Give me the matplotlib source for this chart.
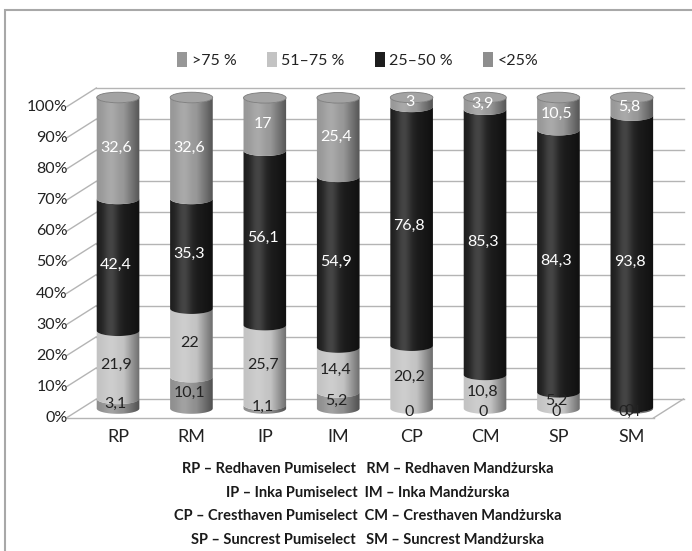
import numpy as np
import matplotlib.pyplot as plt
from matplotlib.patches import Polygon, Ellipse, Rectangle, PathPatch, Patch
from matplotlib.path import Path

plt.rcParams["font.family"] = ["Lato", "DejaVu Sans"]

# data (stack order bottom -> top)
categories = ["RP", "RM", "IP", "IM", "CP", "CM", "SP", "SM"]
lt25 = [3.1, 10.1, 1.1, 5.2, 0, 0, 0, 0.4]
r51_75 = [21.9, 22, 25.7, 14.4, 20.2, 10.8, 5.2, 0]
r25_50 = [42.4, 35.3, 56.1, 54.9, 76.8, 85.3, 84.3, 93.8]
gt75 = [32.6, 32.6, 17, 25.4, 3, 3.9, 10.5, 5.8]
series = [lt25, r51_75, r25_50, gt75]
names = ["<25%", "51–75 %", "25–50 %", ">75 %"]
colors = ["#8e8e8e", "#c3c3c3", "#1d1d1d", "#979797"]
label_colors = ["#222222", "#222222", "white", "white"]
yticks = list(range(0, 101, 10))
footnote = ["RP – Redhaven Pumiselect   RM – Redhaven Mandżurska",
            "IP – Inka Pumiselect  IM – Inka Mandżurska",
            "CP – Cresthaven Pumiselect  CM – Cresthaven Mandżurska",
            "SP – Suncrest Pumiselect   SM – Suncrest Mandżurska"]

W, H = 692, 551
fig = plt.figure(figsize=(W / 100, H / 100), dpi=100)
ax = fig.add_axes([0, 0, 1, 1])
ax.axis("off")

# pixel mapping of the mid-depth plane
px0, pxstep = 118, 73.4
py0, pyscale = 408.5, 3.11
xlim = ((0 - px0) / pxstep, (W - px0) / pxstep)
ylim = ((py0 - H) / pyscale, py0 / pyscale)
dx = 15 / pxstep   # half depth offset
dy = 9.5 / pyscale
grid_c = "#b4b4b4"
n = len(categories)
xl, xr = -0.5, n - 0.5

# back wall, diagonals, floor
for t in yticks:
    ax.plot([xl + dx, xr + dx], [t + dy, t + dy], color=grid_c, lw=1, zorder=1)
    ax.plot([xl - dx, xl + dx], [t - dy, t + dy], color=grid_c, lw=1, zorder=1)
    ax.text(xl - dx + 0.02, t - dy, f"{t}%", ha="right", va="center",
            fontsize=11.5, color="#222222")
ax.plot([xl - dx, xr - dx], [-dy, -dy], color=grid_c, lw=1, zorder=1)
ax.plot([xr - dx, xr + dx], [-dy, dy], color=grid_c, lw=1, zorder=1)

a = 0.29   # half width of cylinder
b = 1.7    # ellipse half height
tt = np.linspace(0, np.pi, 40)

def arc(xc, y, rev=False):
    t = tt if not rev else tt[::-1]
    return np.column_stack([xc + a * np.cos(t), y - b * np.sin(t)])

u = np.linspace(0, 1, 200)
shade = np.zeros((1, 200, 4))
hl = 0.18 * np.exp(-((u - 0.32) / 0.18) ** 2)
dk = np.clip((u - 0.62) / 0.38, 0, 1) * 0.45
shade[0, :, :3] = np.where(u[:, None] < 0.62, 1.0, 0.0)
shade[0, :, 3] = np.where(u < 0.62, hl, dk)

for i, cat in enumerate(categories):
    base = 0
    for s, vals in enumerate(series):
        v = vals[i]
        if v > 0:
            top = base + v
            pts = np.vstack([arc(i, top, rev=True), arc(i, base)])
            ax.add_patch(Polygon(pts, closed=True, fc=colors[s], ec="none", zorder=3))
        base += v
    total = base
    # shading clipped to the cylinder outline
    outline = np.vstack([arc(i, total, rev=True), arc(i, 0)])
    clip = PathPatch(Path(np.vstack([outline, outline[:1]])), fc="none", ec="none",
                     transform=ax.transData)
    ax.add_patch(clip)
    im = ax.imshow(shade, extent=(i - a, i + a, -b, total), aspect="auto", zorder=4)
    im.set_clip_path(clip)
    ax.add_patch(Ellipse((i, total), 2 * a, 2 * b, fc="#a3a3a3", ec="#7a7a7a",
                         lw=0.6, zorder=5))
    ax.text(i, -dy - 6, cat, ha="center", va="center", fontsize=13, color="#222222")

    # data labels
    base = 0
    for s, vals in enumerate(series):
        v = vals[i]
        y = base + v / 2 if v >= 1 else base - 1.2
        ax.text(i - 0.03, y, f"{v:g}".replace(".", ","), ha="center",
                va="center", fontsize=11.5, color=label_colors[s], zorder=6)
        base += v

ax.set_xlim(*xlim)
ax.set_ylim(*ylim)

# legend
handles = [Patch(fc=colors[k], ec="none") for k in [3, 1, 2, 0]]
ax.legend(handles, [names[k] for k in [3, 1, 2, 0]], loc="center",
          bbox_to_anchor=(358 / W, 1 - 60 / H), bbox_transform=fig.transFigure,
          ncol=4, frameon=False, fontsize=11.5, handlelength=0.6, handleheight=1.1,
          handletextpad=0.3, columnspacing=1.9, labelcolor="#222222")

# footnote
for k, line in enumerate(footnote):
    fig.text(368 / W, 1 - (469 + 23.7 * k) / H, line, ha="center", va="center",
             fontsize=10.5, fontweight="bold", color="#1a1a1a")

# outer frame
fig.patches.append(Rectangle((5 / W, -0.1), 1.2, 1.1 - 10 / H,
                             transform=fig.transFigure, fill=False,
                             ec="#a8a8a8", lw=1.5))

fig.savefig("out.png", dpi=100)
